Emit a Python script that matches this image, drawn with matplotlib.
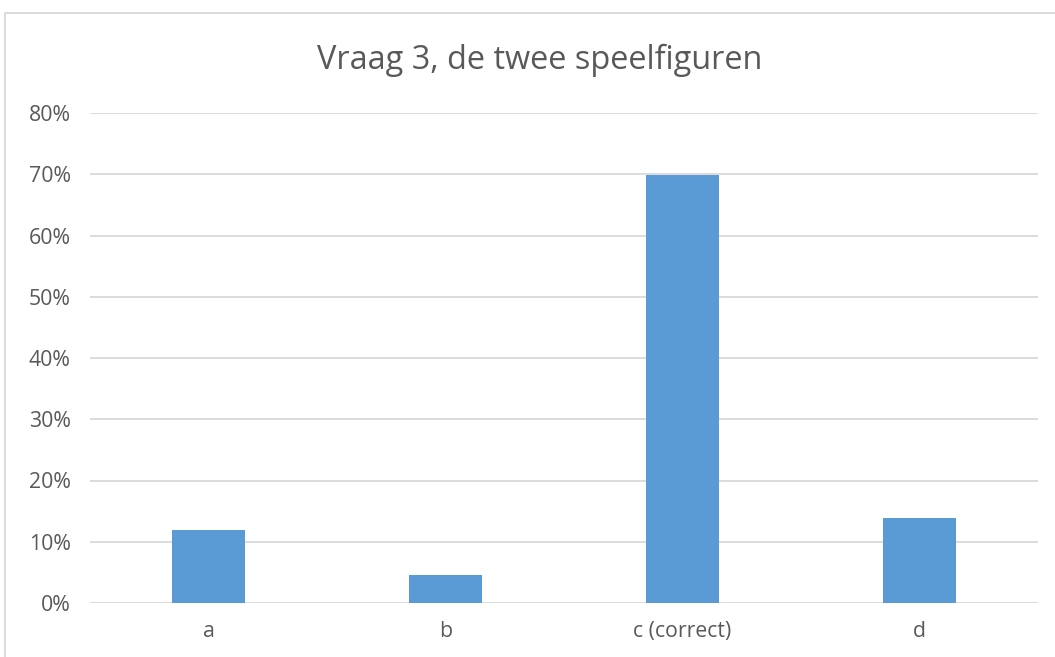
import matplotlib
matplotlib.use("Agg")
import matplotlib.pyplot as plt
from matplotlib.patches import Rectangle
from matplotlib.ticker import PercentFormatter

categories = ["a", "b", "c (correct)", "d"]
values = [0.119, 0.046, 0.699, 0.138]
yticks = [0, 0.1, 0.2, 0.3, 0.4, 0.5, 0.6, 0.7, 0.8]

plt.rcParams['font.family'] = ['Open Sans', 'DejaVu Sans']
W, H = 1055, 657
fig = plt.figure(figsize=(W / 100, H / 100), dpi=100)
ax = fig.add_axes([90 / W, 1 - 603 / H, (1038 - 90) / W, (603 - 113) / H])

x = range(len(categories))
ax.bar(x, values, width=0.31, color="#5b9bd5", zorder=3)
ax.set_xlim(-0.5, len(categories) - 0.5)
ax.set_ylim(0, 0.8)
ax.set_yticks(yticks)
ax.yaxis.set_major_formatter(PercentFormatter(1.0, decimals=0))
ax.set_xticks(list(x))
ax.set_xticklabels(categories)
ax.grid(axis="y", color="#d9d9d9", linewidth=1.3, zorder=0)
for s in ax.spines.values():
    s.set_visible(False)
ax.tick_params(axis="both", length=0, colors="#595959", labelsize=15.3)
ax.tick_params(axis="y", pad=14)
ax.tick_params(axis="x", pad=13)

fig.text(540 / W, 1 - 60 / H, "Vraag 3, de twee speelfiguren", ha="center",
         va="center", fontsize=23.4, color="#595959")

fig.patches.append(Rectangle((5 / W, -0.1), 1.2, 1 - 13 / H + 0.1,
                             transform=fig.transFigure, fill=False,
                             edgecolor="#d9d9d9", linewidth=1.3))

fig.savefig("out.png", dpi=100)
